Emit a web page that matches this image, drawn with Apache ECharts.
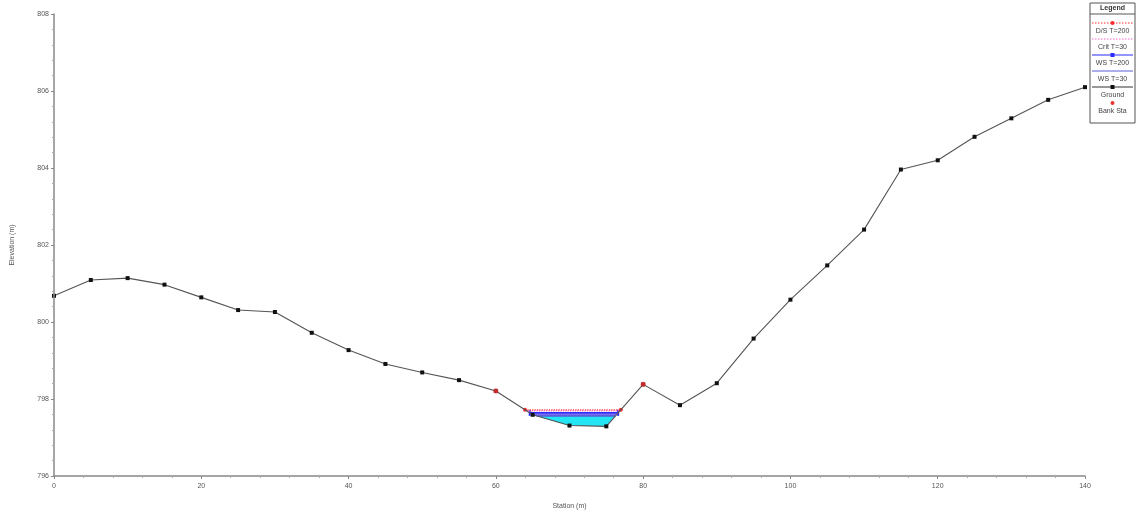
<!DOCTYPE html>
<html>
<head>
<meta charset="utf-8">
<script src="https://cdn.jsdelivr.net/npm/echarts@6/dist/echarts.min.js"></script>
<style>html,body{margin:0;padding:0;background:#fff;}#chart{width:1137px;height:515px;}</style>
</head>
<body>
<div id="chart"></div>
<script>
// ---- data ----
const stations = [0,5,10,15,20,25,30,35,40,45,50,55,60,65,70,75,80,85,90,95,100,105,110,115,120,125,130,135,140];
const ground   = [800.68,801.09,801.14,800.97,800.64,800.31,800.26,799.72,799.27,798.91,798.69,798.49,798.21,797.59,797.31,797.29,798.38,797.84,798.41,799.57,800.58,801.47,802.40,803.96,804.20,804.81,805.29,805.77,806.10];
const bankStations = [60, 80];
const wsNames  = ['D/S T=200', 'Crit T=30', 'WS T=200', 'WS T=30'];
const wsLevels = [797.72, 797.69, 797.64, 797.56];
const xTicks = [0,20,40,60,80,100,120,140];
const yTicks = [796,798,800,802,804,806,808];

// ---- helpers ----
function groundAt(x){
  for(let i=0;i<stations.length-1;i++){
    if(x>=stations[i] && x<=stations[i+1]){
      const t=(x-stations[i])/(stations[i+1]-stations[i]);
      return ground[i]+t*(ground[i+1]-ground[i]);
    }
  }
  return null;
}
function waterPolygon(level){
  const i0 = stations.indexOf(bankStations[0]), i1 = stations.indexOf(bankStations[1]);
  let lo=i0; for(let i=i0;i<=i1;i++){ if(ground[i]<ground[lo]) lo=i; }
  let l=lo; while(l>0 && ground[l-1]<level) l--;
  let r=lo; while(r<stations.length-1 && ground[r+1]<level) r++;
  const xl = stations[l-1] + (level-ground[l-1])/(ground[l]-ground[l-1])*(stations[l]-stations[l-1]);
  const xr = stations[r] + (level-ground[r])/(ground[r+1]-ground[r])*(stations[r+1]-stations[r]);
  const pts=[[xl,level]];
  for(let i=l;i<=r;i++) pts.push([stations[i],ground[i]]);
  pts.push([xr,level]);
  return pts;
}

const lineColors = ['#ff2a2a','#ff66cc','#2b2bff','#5a5ad8'];
const lineTypes  = ['dotted','dotted','solid','solid'];
const fillColors = {2:'#7a6cf0', 3:'#22e4f2'};

const series = [];
// water fills
[2,3].forEach(k=>{
  const poly = waterPolygon(wsLevels[k]);
  series.push({
    type:'custom', name: wsNames[k]+' fill', z: k===2?1:2, silent:true,
    data: poly,
    renderItem: function(params, api){
      if(params.dataIndex!==0) return null;
      return {type:'polygon', shape:{points: poly.map(p=>api.coord(p))}, style:{fill: fillColors[k]}};
    }
  });
});
// water surface lines
wsLevels.forEach((lv,k)=>{
  const poly = waterPolygon(lv);
  series.push({
    type:'line', name: wsNames[k], z: 5-k/10, animation:false,
    data: [poly[0], poly[poly.length-1]],
    symbol: k===1||k===3 ? 'none' : (k===0?'circle':'rect'),
    symbolSize: k===0?4:[2,6],
    itemStyle:{color: lineColors[k]},
    lineStyle:{color: lineColors[k], width: k>=2?1.5:1.2, type: lineTypes[k]}
  });
});
// ground
series.push({
  type:'line', name:'Ground', z:6, animation:false,
  data: stations.map((s,i)=>[s,ground[i]]),
  symbol:'rect', symbolSize:4,
  itemStyle:{color:'#111'},
  lineStyle:{color:'#555', width:1.1}
});
// bank stations
series.push({
  type:'scatter', name:'Bank Sta', z:7, animation:false,
  data: bankStations.map(s=>[s, groundAt(s)]),
  symbol:'circle', symbolSize:5,
  itemStyle:{color:'#ee3333'}
});

// legend (drawn as graphic to mimic vertical symbol-over-text layout)
const LX=1090, LW=45, LY=3;
const legendItems = [
  {name:wsNames[0], color:lineColors[0], dash:[1.5,1.5], marker:'circle', mcolor:'#ff2a2a'},
  {name:wsNames[1], color:lineColors[1], dash:[1.5,1.5], marker:null},
  {name:wsNames[2], color:lineColors[2], dash:null, marker:'rect', mcolor:'#2b2bff'},
  {name:wsNames[3], color:lineColors[3], dash:null, marker:null},
  {name:'Ground', color:'#333', dash:null, marker:'rect', mcolor:'#111'},
  {name:'Bank Sta', color:null, dash:null, marker:'circle', mcolor:'#ee3333'}
];
const graphics = [
  {type:'rect', shape:{x:LX, y:LY, width:LW, height:120}, style:{fill:'#fff', stroke:'#555', lineWidth:1}, z:100},
  {type:'text', x:LX+LW/2, y:LY+5, style:{text:'Legend', font:'bold 7px "Liberation Sans", Arial', fill:'#333', align:'center', verticalAlign:'middle'}, z:101},
  {type:'line', shape:{x1:LX, y1:LY+11, x2:LX+LW, y2:LY+11}, style:{stroke:'#555', lineWidth:1}, z:101}
];
legendItems.forEach((it,i)=>{
  const sy = LY+20+i*16, ty = sy+8;
  if(it.color) graphics.push({type:'line', shape:{x1:LX+2, y1:sy, x2:LX+LW-2, y2:sy}, style:{stroke:it.color, lineWidth:1, lineDash:it.dash||null}, z:101});
  if(it.marker==='circle') graphics.push({type:'circle', shape:{cx:LX+LW/2, cy:sy, r:2}, style:{fill:it.mcolor}, z:102});
  if(it.marker==='rect') graphics.push({type:'rect', shape:{x:LX+LW/2-2, y:sy-2, width:4, height:4}, style:{fill:it.mcolor}, z:102});
  graphics.push({type:'text', x:LX+LW/2, y:ty, style:{text:it.name, font:'7px "Liberation Sans", Arial', fill:'#444', align:'center', verticalAlign:'middle'}, z:101});
});

const axisLabelStyle = {fontSize:7, color:'#555', fontFamily:'"Liberation Sans", Arial'};
const chart = echarts.init(document.getElementById('chart'), null, {renderer:'canvas'});
chart.setOption({
  animation:false,
  backgroundColor:'#fff',
  grid:{left:54, right:52, top:14, bottom:34, containLabel:false},
  xAxis:{
    type:'value', min:xTicks[0], max:xTicks[xTicks.length-1], interval:20, z:10,
    name:'Station (m)', nameLocation:'middle', nameGap:27,
    nameTextStyle:{fontSize:7, color:'#555', fontFamily:'"Liberation Sans", Arial'},
    axisLine:{show:true, lineStyle:{color:'#888', width:1.5}},
    axisTick:{show:true, length:3, lineStyle:{color:'#888'}},
    minorTick:{show:true, splitNumber:5, length:2, lineStyle:{color:'#aaa'}},
    splitLine:{show:false},
    axisLabel:Object.assign({margin:7}, axisLabelStyle)
  },
  yAxis:{
    type:'value', min:yTicks[0], max:yTicks[yTicks.length-1], interval:2, z:10,
    name:'Elevation (m)', nameLocation:'middle', nameGap:38, nameRotate:90,
    nameTextStyle:{fontSize:7, color:'#555', fontFamily:'"Liberation Sans", Arial'},
    axisLine:{show:true, lineStyle:{color:'#888', width:1.5}},
    axisTick:{show:true, length:3, lineStyle:{color:'#888'}},
    minorTick:{show:true, splitNumber:5, length:2, lineStyle:{color:'#aaa'}},
    splitLine:{show:false},
    axisLabel:Object.assign({margin:5}, axisLabelStyle)
  },
  series: series,
  graphic: graphics
});
</script>
</body>
</html>
